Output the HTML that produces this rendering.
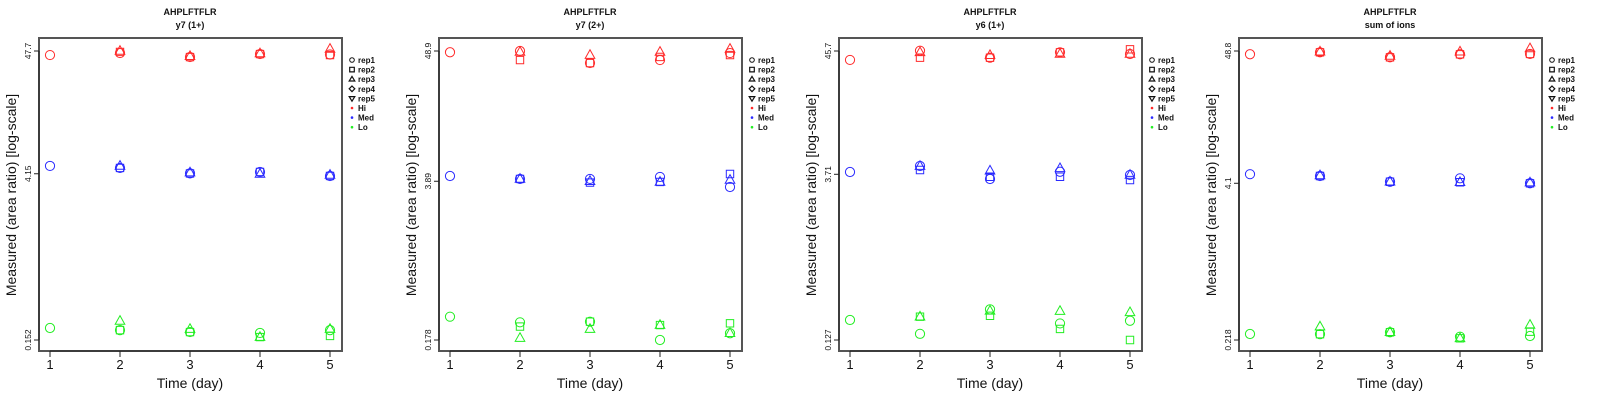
<!DOCTYPE html>
<html><head><meta charset="utf-8"><style>
html,body{margin:0;padding:0;background:#fff;}
svg{display:block;font-family:"Liberation Sans",sans-serif;}
</style></head><body>
<svg id="chart" width="1600" height="400" viewBox="0 0 1600 400"></svg>
<script>
// ---- data (day, replicate, value) ----
const panelTitles = ["y7 (1+)", "y7 (2+)", "y6 (1+)", "sum of ions"];
const yTickLabels = [["0.152","4.15","47.7"],["0.178","3.89","48.9"],["0.127","3.71","45.7"],["0.218","4.1","48.8"]];
const yTickValues = [[0.152,4.15,47.7],[0.178,3.89,48.9],[0.127,3.71,45.7],[0.218,4.1,48.8]];
const days = [1,2,3,4,5];
const legendLabels = ["rep1","rep2","rep3","rep4","rep5","Hi","Med","Lo"];

const p1Hi = [[1,1,44.0],[2,1,45.8],[2,2,46.8],[2,3,47.7],[3,1,42.3],[3,2,42.3],[3,3,43.0],[4,1,44.9],[4,2,44.9],[4,3,45.4],[5,1,44.5],[5,2,44.0],[5,3,49.7]];
const p1Med = [[1,1,4.85],[2,1,4.66],[2,2,4.66],[2,3,4.85],[3,1,4.18],[3,2,4.18],[3,3,4.25],[4,1,4.30],[4,2,4.30],[4,3,4.13],[5,1,3.97],[5,2,3.97],[5,3,4.05]];
const p1Lo = [[1,1,0.193],[2,1,0.185],[2,2,0.185],[2,3,0.222],[3,1,0.178],[3,2,0.178],[3,3,0.189],[4,1,0.175],[4,2,0.161],[4,3,0.161],[5,1,0.185],[5,2,0.165],[5,3,0.189]];

const p2Hi = [[1,1,47.7],[2,1,48.9],[2,2,41.0],[2,3,48.0],[3,1,38.7],[3,2,38.7],[3,3,45.2],[4,1,41.0],[4,2,43.6],[4,3,48.0],[5,1,47.0],[5,2,45.2],[5,3,50.9]];
const p2Med = [[1,1,4.31],[2,1,4.07],[2,2,4.07],[2,3,4.07],[3,1,4.07],[3,2,3.79],[3,3,3.90],[4,1,4.23],[4,2,3.84],[4,3,3.84],[5,1,3.48],[5,2,4.48],[5,3,3.99]];
const p2Lo = [[1,1,0.280],[2,1,0.251],[2,2,0.231],[2,3,0.185],[3,1,0.254],[3,2,0.254],[3,3,0.220],[4,1,0.178],[4,2,0.238],[4,3,0.238],[5,1,0.203],[5,2,0.246],[5,3,0.203]];

const p3Hi = [[1,1,38.1],[2,1,46.0],[2,2,39.9],[2,3,44.5],[3,1,39.9],[3,2,39.9],[3,3,42.0],[4,1,44.5],[4,2,44.5],[4,3,43.0],[5,1,43.0],[5,2,47.3],[5,3,43.0]];
const p3Med = [[1,1,3.89],[2,1,4.39],[2,2,4.05],[2,3,4.39],[3,1,3.37],[3,2,3.53],[3,3,3.99],[4,1,3.91],[4,2,3.53],[4,3,4.19],[5,1,3.66],[5,2,3.30],[5,3,3.66]];
const p3Lo = [[1,1,0.191],[2,1,0.144],[2,2,0.204],[2,3,0.204],[3,1,0.237],[3,2,0.208],[3,3,0.230],[4,1,0.178],[4,2,0.159],[4,3,0.229],[5,1,0.188],[5,2,0.127],[5,3,0.223]];

const p4Hi = [[1,1,45.9],[2,1,47.6],[2,2,47.6],[2,3,48.2],[3,1,43.4],[3,2,43.4],[3,3,44.5],[4,1,45.9],[4,2,45.9],[4,3,48.2],[5,1,46.2],[5,2,46.2],[5,3,51.2]];
const p4Med = [[1,1,4.86],[2,1,4.70],[2,2,4.70],[2,3,4.75],[3,1,4.22],[3,2,4.22],[3,3,4.22],[4,1,4.50],[4,2,4.18],[4,3,4.18],[5,1,4.10],[5,2,4.10],[5,3,4.15]];
const p4Lo = [[1,1,0.244],[2,1,0.243],[2,2,0.243],[2,3,0.280],[3,1,0.252],[3,2,0.252],[3,3,0.252],[4,1,0.232],[4,2,0.225],[4,3,0.225],[5,1,0.235],[5,2,0.255],[5,3,0.289]];

const panelSeries = [[p1Hi,p1Med,p1Lo],[p2Hi,p2Med,p2Lo],[p3Hi,p3Med,p3Lo],[p4Hi,p4Med,p4Lo]];
const seriesNames = ["hi","med","lo"];
const seriesColors = ["#ff2a2a","#2a2aff","#22ee22"];

const NS = "http://www.w3.org/2000/svg";
const svg = document.getElementById("chart");
function mk(tag, attrs, parent){ const e=document.createElementNS(NS,tag); for(const k in attrs) e.setAttribute(k,attrs[k]); (parent||svg).appendChild(e); return e; }

function markerPath(rep, cx, cy){
  const s=4.3;
  if(rep===2) return `M${cx-s+0.6},${cy-s+0.6}h${2*s-1.2}v${2*s-1.2}h${-(2*s-1.2)}Z`;
  if(rep===3) return `M${cx},${cy-s-1}L${cx+s+0.5},${cy+s-1}L${cx-s-0.5},${cy+s-1}Z`;
  if(rep===4) return `M${cx},${cy-s-1}L${cx+s+1},${cy}L${cx},${cy+s+1}L${cx-s-1},${cy}Z`;
  if(rep===5) return `M${cx},${cy+s+1}L${cx+s+0.5},${cy-s+1}L${cx-s-0.5},${cy-s+1}Z`;
  return null;
}

for(let p=0;p<4;p++){
  const ox = p*400;
  const g = mk("g",{});
  
  
  const L=ox+39, R=ox+342, T=38, B=351;
  const xScale = d => ox+50 + (d-1)*70;
  const lmin=Math.log(yTickValues[p][0]), lmax=Math.log(yTickValues[p][2]);
  const yScale = v => 340 - (Math.log(v)-lmin)/(lmax-lmin)*289;

  const t1 = mk("text",{x:ox+190,y:15,"text-anchor":"middle","font-size":"9","font-weight":"bold",fill:"#111"},g);
  t1.textContent="AHPLFTFLR";
  
  
  const t2 = mk("text",{x:ox+190,y:28,"text-anchor":"middle","font-size":"9","font-weight":"bold",fill:"#111"},g);
  t2.textContent=panelTitles[p];
  
  

  const box = mk("rect",{x:L,y:T,width:R-L,height:B-T,fill:"none",stroke:"#555","stroke-width":"2"},g);
  
  

  // x axis
  mk("line",{x1:xScale(1),x2:xScale(5),y1:B,y2:B,stroke:"#222","stroke-width":"1"},g);
  days.forEach(d=>{
    mk("line",{x1:xScale(d),x2:xScale(d),y1:B,y2:B+6,stroke:"#222"},g);
    const tl=mk("text",{x:xScale(d),y:369,"text-anchor":"middle","font-size":"13",fill:"#111"},g);
    tl.textContent=d;
    
    
  });
  const xt=mk("text",{x:ox+190,y:388,"text-anchor":"middle","font-size":"14",fill:"#111"},g);
  xt.textContent="Time (day)";
  
  

  // y axis
  mk("line",{x1:L,x2:L,y1:yScale(yTickValues[p][0]),y2:yScale(yTickValues[p][2]),stroke:"#222"},g);
  yTickValues[p].forEach((v,i)=>{
    const y=yScale(v);
    mk("line",{x1:L-5,x2:L,y1:y,y2:y,stroke:"#222"},g);
    const yl=mk("text",{x:0,y:0,"text-anchor":"middle","font-size":"8.5",fill:"#111",transform:`translate(${ox+31},${y}) rotate(-90)`},g);
    yl.textContent=yTickLabels[p][i];
    
    
  });
  const yt=mk("text",{x:0,y:0,"text-anchor":"middle","font-size":"14",fill:"#111",transform:`translate(${ox+16},195) rotate(-90)`},g);
  yt.textContent="Measured (area ratio) [log-scale]";
  
  

  // points
  panelSeries[p].forEach((ser,si)=>{
    ser.forEach(pt=>{
      const cx=xScale(pt[0]), cy=yScale(pt[2]), rep=pt[1];
      let m;
      if(rep===1) m=mk("circle",{cx:cx,cy:cy,r:4.6,fill:"none",stroke:seriesColors[si],"stroke-width":"1"},g);
      else m=mk("path",{d:markerPath(rep,cx,cy),fill:"none",stroke:seriesColors[si],"stroke-width":"1"},g);
      
      
    });
  });

  // legend
  const lg = mk("g",{},g);
  
  
  legendLabels.forEach((lab,i)=>{
    const y = 60 + i*9.6;
    const sx = ox+352;
    if(i===0) mk("circle",{cx:sx,cy:y,r:2.3,fill:"none",stroke:"#111","stroke-width":"1"},lg);
    else if(i<5){
      const s=2.3; let d;
      if(i===1) d=`M${sx-s},${y-s}h${2*s}v${2*s}h${-2*s}Z`;
      if(i===2) d=`M${sx},${y-s-0.5}L${sx+s+0.5},${y+s-0.5}L${sx-s-0.5},${y+s-0.5}Z`;
      if(i===3) d=`M${sx},${y-s-0.5}L${sx+s+0.5},${y}L${sx},${y+s+0.5}L${sx-s-0.5},${y}Z`;
      if(i===4) d=`M${sx},${y+s+0.5}L${sx+s+0.5},${y-s+0.5}L${sx-s-0.5},${y-s+0.5}Z`;
      mk("path",{d:d,fill:"none",stroke:"#111","stroke-width":"1.2"},lg);
    } else mk("circle",{cx:sx,cy:y,r:1.3,fill:seriesColors[i-5]},lg);
    const tx=mk("text",{x:ox+358,y:y+3,"font-size":"8","font-weight":"bold",fill:"#111"},lg);
    tx.textContent=lab;
    
    
  });
}
</script>
</body></html>
